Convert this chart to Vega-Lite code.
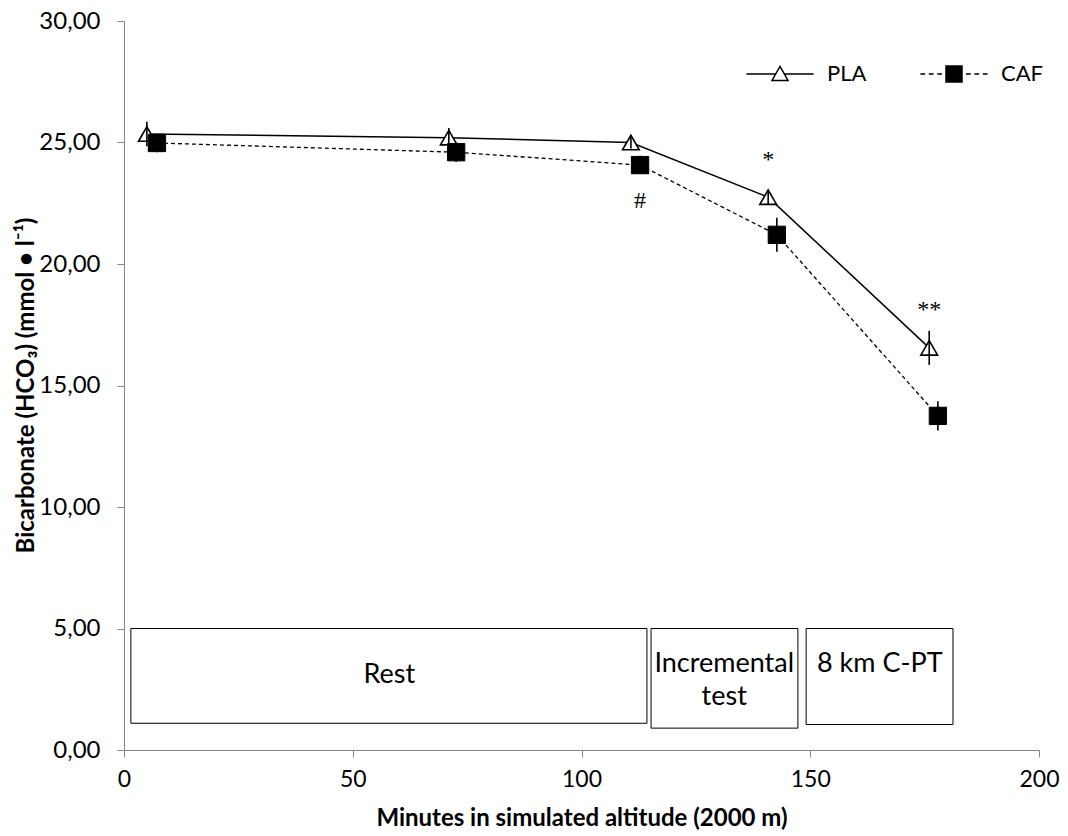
{
  "$schema": "https://vega.github.io/schema/vega-lite/v6.json",
  "width": 915,
  "height": 729,
  "autosize": {"type": "none"},
  "padding": {"left": 124, "top": 21, "right": 29, "bottom": 86},
  "background": "white",
  "config": {
    "view": {"stroke": null},
    "axis": {
      "grid": false,
      "domainColor": "#868686",
      "tickColor": "#868686",
      "labelFont": "Lato",
      "labelFontSize": 23,
      "labelColor": "black",
      "labelFlush": false,
      "titleFont": "Lato",
      "titleFontSize": 24,
      "titleFontWeight": "bold",
      "titleColor": "black",
      "tickSize": 7
    }
  },
  "datasets": {
    "points": [
      {"series": "PLA", "minute": 5, "value": 25.35, "lo": 24.85, "hi": 25.85},
      {"series": "PLA", "minute": 71, "value": 25.2, "lo": 24.8, "hi": 25.6},
      {"series": "PLA", "minute": 110.8, "value": 25.0, "lo": 24.75, "hi": 25.3},
      {"series": "PLA", "minute": 140.8, "value": 22.75, "lo": 22.45, "hi": 23.05},
      {"series": "PLA", "minute": 176, "value": 16.55, "lo": 15.85, "hi": 17.25},
      {"series": "CAF", "minute": 7.2, "value": 24.98, "lo": 24.6, "hi": 25.35},
      {"series": "CAF", "minute": 72.6, "value": 24.6, "lo": 24.2, "hi": 25.0},
      {"series": "CAF", "minute": 112.8, "value": 24.07, "lo": 23.7, "hi": 24.45},
      {"series": "CAF", "minute": 142.7, "value": 21.2, "lo": 20.5, "hi": 21.9},
      {"series": "CAF", "minute": 177.9, "value": 13.75, "lo": 13.15, "hi": 14.35}
    ],
    "phases": [
      {"phase": "Rest", "x1": 1.5, "x2": 114.3, "y1": 1.1, "y2": 5.0, "label": ["Rest"], "lx": 58, "ly": 3.09},
      {"phase": "Incremental test", "x1": 115.2, "x2": 147.3, "y1": 0.9, "y2": 5.0, "label": ["Incremental", "test"], "lx": 131.2, "ly": 3.54},
      {"phase": "8 km C-PT", "x1": 149.1, "x2": 181.2, "y1": 1.05, "y2": 5.0, "label": ["8 km C-PT"], "lx": 165.2, "ly": 3.54}
    ],
    "notes": [
      {"text": "#", "x": 112.8, "y": 22.6},
      {"text": "*", "x": 140.8, "y": 24.3},
      {"text": "**", "x": 176, "y": 18.1}
    ]
  },
  "layer": [
    {
      "data": {"name": "phases"},
      "mark": {"type": "rect", "fill": "white", "stroke": "black", "strokeWidth": 1},
      "encoding": {
        "x": {
          "field": "x1", "type": "quantitative",
          "scale": {"domain": [0, 200], "nice": false, "zero": false},
          "axis": {
            "values": [0, 50, 100, 150, 200],
            "title": "Minutes in simulated altitude (2000 m)",
            "labelPadding": 11,
            "titleX": 457.5,
            "titleY": 56
          }
        },
        "x2": {"field": "x2"},
        "y": {
          "field": "y1", "type": "quantitative",
          "scale": {"domain": [0, 30], "nice": false},
          "axis": {
            "values": [0, 5, 10, 15, 20, 25, 30],
            "labelExpr": "replace(format(datum.value, '.2f'), '.', ',')",
            "labelFontSize": 24,
            "title": "Bicarbonate (HCO₃) (mmol • l⁻¹)",
            "labelPadding": 17,
            "titleX": -86,
            "titleY": 364
          }
        },
        "y2": {"field": "y2"}
      }
    },
    {
      "data": {"name": "phases"},
      "mark": {"type": "text", "font": "Lato", "fontSize": 27, "color": "black", "lineHeight": 33, "align": "center", "baseline": "middle"},
      "encoding": {
        "x": {"field": "lx", "type": "quantitative"},
        "y": {"field": "ly", "type": "quantitative"},
        "text": {"field": "label"}
      }
    },
    {
      "data": {"name": "points"},
      "transform": [{"filter": "datum.series == 'PLA'"}],
      "mark": {"type": "line", "color": "black", "strokeWidth": 1.5},
      "encoding": {
        "x": {"field": "minute", "type": "quantitative"},
        "y": {"field": "value", "type": "quantitative"}
      }
    },
    {
      "data": {"name": "points"},
      "transform": [{"filter": "datum.series == 'CAF'"}],
      "mark": {"type": "line", "color": "black", "strokeWidth": 1.3, "strokeDash": [4, 3]},
      "encoding": {
        "x": {"field": "minute", "type": "quantitative"},
        "y": {"field": "value", "type": "quantitative"}
      }
    },
    {
      "data": {"name": "points"},
      "transform": [{"filter": "datum.series == 'PLA'"}],
      "mark": {"type": "point", "shape": "triangle-up", "filled": true, "fill": "white", "stroke": "black", "strokeWidth": 1.6, "size": 280, "opacity": 1},
      "encoding": {
        "x": {"field": "minute", "type": "quantitative"},
        "y": {"field": "value", "type": "quantitative"}
      }
    },
    {
      "data": {"name": "points"},
      "transform": [{"filter": "datum.series == 'CAF'"}],
      "mark": {"type": "point", "shape": "square", "filled": true, "fill": "black", "stroke": "black", "strokeWidth": 1, "size": 300, "opacity": 1},
      "encoding": {
        "x": {"field": "minute", "type": "quantitative"},
        "y": {"field": "value", "type": "quantitative"}
      }
    },
    {
      "data": {"name": "points"},
      "mark": {"type": "rule", "color": "black", "strokeWidth": 1.6},
      "encoding": {
        "x": {"field": "minute", "type": "quantitative"},
        "y": {"field": "lo", "type": "quantitative"},
        "y2": {"field": "hi"}
      }
    },
    {
      "data": {"name": "points"},
      "mark": {"type": "point", "opacity": 0, "stroke": "black", "strokeWidth": 1.5, "filled": true},
      "encoding": {
        "x": {"field": "minute", "type": "quantitative"},
        "y": {"field": "value", "type": "quantitative"},
        "shape": {
          "field": "series", "type": "nominal",
          "scale": {"domain": ["PLA", "CAF"], "range": ["M-4.2,0H-0.54M0.54,0H4.2M0,-0.95L1,0.8H-1Z", "M-4.2,0H-3.6M-3.15,0H-2.55M-2.1,0H-1.5M1.5,0H2.1M2.55,0H3.15M3.6,0H4.2M-1,-1H1V1H-1Z"]},
          "legend": {
            "orient": "none", "legendX": 645, "legendY": 42, "direction": "horizontal", "title": null,
            "symbolSize": 256, "symbolStrokeWidth": 1.5, "symbolOpacity": 1,
            "labelOffset": 36, "columnPadding": 50, "labelFont": "Lato", "labelFontSize": 22,
            "labelColor": "black", "padding": 0
          }
        },
        "fill": {
          "field": "series", "type": "nominal",
          "scale": {"domain": ["PLA", "CAF"], "range": ["white", "black"]},
          "legend": {
            "orient": "none", "legendX": 645, "legendY": 42, "direction": "horizontal", "title": null,
            "symbolSize": 256, "symbolStrokeWidth": 1.5, "symbolOpacity": 1,
            "labelOffset": 36, "columnPadding": 50, "labelFont": "Lato", "labelFontSize": 22,
            "labelColor": "black", "padding": 0
          }
        }
      }
    },
    {
      "data": {"name": "notes"},
      "mark": {"type": "text", "font": "Liberation Serif", "fontSize": 24, "color": "black", "align": "center", "baseline": "middle"},
      "encoding": {
        "x": {"field": "x", "type": "quantitative"},
        "y": {"field": "y", "type": "quantitative"},
        "text": {"field": "text"}
      }
    }
  ]
}
